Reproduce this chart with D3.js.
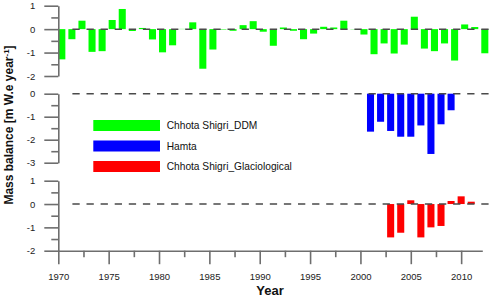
<!DOCTYPE html>
<html>
<head>
<meta charset="utf-8">
<script src="https://cdn.jsdelivr.net/npm/d3@7"></script>
<style>
  body { margin: 0; background: #fff; }
  svg { display: block; }
  text { font-family: Arial, "Liberation Sans", sans-serif; }
</style>
</head>
<body>
<svg id="chart" width="500" height="302"></svg>
<script>
// data
const ddmYears = [1970, 1971, 1972, 1973, 1974, 1975, 1976, 1977, 1978, 1979,
                  1980, 1981, 1982, 1983, 1984, 1985, 1986, 1987, 1988, 1989,
                  1990, 1991, 1992, 1993, 1994, 1995, 1996, 1997, 1998, 1999,
                  2000, 2001, 2002, 2003, 2004, 2005, 2006, 2007, 2008, 2009,
                  2010, 2011, 2012];
const ddmValues = [-1.29, -0.43, 0.36, -0.97, -0.94, 0.39, 0.86, -0.08, 0.05, -0.44,
                   -0.99, -0.69, 0.01, 0.29, -1.69, -0.87, -0.02, -0.07, 0.17, 0.34,
                   -0.11, -0.71, 0.07, -0.07, -0.43, -0.19, 0.10, 0.07, 0.36, -0.01,
                   -0.23, -1.07, -0.61, -1.04, -0.66, 0.53, -0.83, -0.94, -0.61, -1.34,
                   0.20, 0.09, -1.03];
const hamtaYears = [2001, 2002, 2003, 2004, 2005, 2006, 2007, 2008, 2009];
const hamtaValues = [-1.65, -1.22, -1.62, -1.87, -1.87, -1.38, -2.62, -1.33, -0.72];
const glacYears = [2003, 2004, 2005, 2006, 2007, 2008, 2009, 2010, 2011];
const glacValues = [-1.43, -1.23, 0.16, -1.43, -1.00, -0.94, 0.13, 0.33, 0.10];

const xMajorTicks = [1970, 1975, 1980, 1985, 1990, 1995, 2000, 2005, 2010];
const xMinorTicks = [1972.5, 1977.5, 1982.5, 1987.5, 1992.5, 1997.5, 2002.5, 2007.5];
const seriesNames = ["Chhota Shigri_DDM", "Hamta", "Chhota Shigri_Glaciological"];
const seriesColors = ["#00ff00", "#0000ff", "#ff0000"];

const svg = d3.select("#chart");
const axisColor = "#6e6e6e";

const x = d3.scaleLinear().domain([1970, 2012.1]).range([58.3, 482.3]);

// three stacked panels sharing the x axis
const panels = [
  { years: ddmYears, values: ddmValues, color: seriesColors[0], offset: 0,
    y: d3.scaleLinear().domain([1, -2]).range([5.7, 76]),
    major: [1, 0, -1, -2], minor: [0.5, -0.5, -1.5] },
  { years: hamtaYears, values: hamtaValues, color: seriesColors[1], offset: -0.35,
    y: d3.scaleLinear().domain([0, -3]).range([93.7, 162.7]),
    major: [0, -1, -2, -3], minor: [-0.5, -1.5, -2.5] },
  { years: glacYears, values: glacValues, color: seriesColors[2], offset: -0.35,
    y: d3.scaleLinear().domain([1, -2]).range([180.7, 250.7]),
    major: [1, 0, -1, -2], minor: [0.5, -0.5, -1.5] }
];

function styleAxis(g) {
  g.selectAll("path, line").attr("stroke", axisColor).attr("stroke-width", 1.6);
  g.selectAll("text").attr("fill", "#222").style("font-size", "9.5px");
}

panels.forEach(p => {
  const g = svg.append("g");

  // bars
  g.selectAll("rect")
    .data(p.years.map((yr, i) => ({ yr, v: p.values[i] })))
    .enter()
    .append("rect")
    .attr("x", d => x(d.yr + p.offset))
    .attr("width", x(1970.7) - x(1970))
    .attr("y", d => Math.min(p.y(d.v), p.y(0)))
    .attr("height", d => Math.abs(p.y(d.v) - p.y(0)))
    .attr("fill", p.color);

  // dashed zero line
  g.append("line")
    .attr("x1", x(1971.4)).attr("x2", x(2012.8))
    .attr("y1", p.y(0)).attr("y2", p.y(0))
    .attr("stroke", "#4a4a4a")
    .attr("stroke-width", 1.5)
    .attr("stroke-dasharray", "7.3,6.8");

  // y axis, major + minor
  g.append("g")
    .attr("transform", `translate(${x(1970)},0)`)
    .call(d3.axisLeft(p.y).tickValues(p.major).tickSize(14).tickSizeOuter(0)
      .tickPadding(9).tickFormat(d => String(d)))
    .call(styleAxis)
    .call(a => a.select(".domain").remove());
  g.append("g")
    .attr("transform", `translate(${x(1970)},0)`)
    .call(d3.axisLeft(p.y).tickValues(p.minor).tickSize(7).tickSizeOuter(0).tickFormat(""))
    .call(styleAxis);
});

// x axis at the bottom panel
const bottomY = panels[2].y(-2);
svg.append("g")
  .attr("transform", `translate(0,${bottomY})`)
  .call(d3.axisBottom(x).tickValues(xMajorTicks).tickSize(13.5).tickSizeOuter(0)
    .tickPadding(9).tickFormat(d => String(d)))
  .call(styleAxis);
svg.append("g")
  .attr("transform", `translate(0,${bottomY})`)
  .call(d3.axisBottom(x).tickValues(xMinorTicks).tickSize(6.5).tickSizeOuter(0).tickFormat(""))
  .call(styleAxis)
  .call(a => a.select(".domain").remove());

// legend
const legend = svg.append("g");
seriesNames.forEach((name, i) => {
  legend.append("rect")
    .attr("x", 93.3).attr("y", 120 + i * 20.5)
    .attr("width", 66.7).attr("height", 11)
    .attr("fill", seriesColors[i]);
  legend.append("text")
    .attr("x", 166.7).attr("y", 125.7 + i * 20.5)
    .attr("dy", "0.35em")
    .style("font-size", "10.2px")
    .attr("fill", "#111")
    .text(name);
});

// axis titles
const yTitle = svg.append("text")
  .attr("transform", "translate(13,125) rotate(-90)")
  .attr("text-anchor", "middle")
  .style("font-size", "12px")
  .style("font-weight", "bold")
  .attr("fill", "#111");
yTitle.append("tspan").text("Mass balance [m W.e year");
yTitle.append("tspan").attr("baseline-shift", "super").style("font-size", "8px").text("-1");
yTitle.append("tspan").text("]");

svg.append("text")
  .attr("x", 270).attr("y", 295)
  .attr("text-anchor", "middle")
  .style("font-size", "13px")
  .style("font-weight", "bold")
  .attr("fill", "#111")
  .text("Year");
</script>
</body>
</html>
